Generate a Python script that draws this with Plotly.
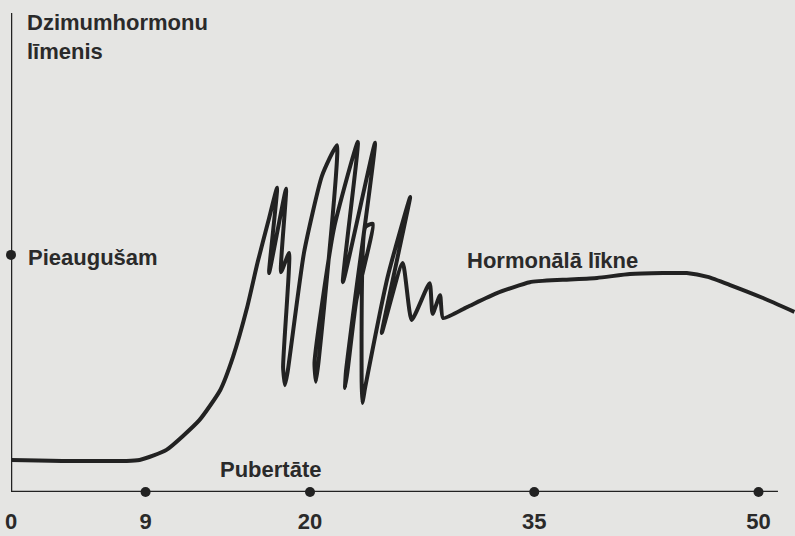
import plotly.graph_objects as go

# Hormone curve (age in years, relative sex-hormone level 0-100)
curve_age = [0.0, 8.6, 10.4, 12.6, 14.0, 14.85, 15.8, 16.5, 17.2, 17.8, 17.26, 18.4, 18.06, 18.6,
             18.2, 18.33, 18.5, 19.6, 20.8, 21.8, 20.6, 20.4, 20.3, 21.6, 23.2, 22.2, 24.35, 23.0,
             22.4, 22.34, 22.5, 23.1, 24.2, 23.7, 23.45, 23.5, 23.7, 25.2, 26.7, 24.8, 26.2, 26.8,
             28.0, 28.2, 28.7, 28.9, 30.5, 32.5, 34.7, 36.9, 39.2, 41.4, 43.6, 45.2, 46.6, 48.1,
             50.3, 52.4]
curve_level = [6.7, 6.7, 8.8, 15.0, 21.3, 28.2, 38.6, 48.0, 56.4, 63.5, 45.7, 63.3, 45.9, 49.9,
               26.0, 22.3, 25.0, 50.0, 66.0, 72.4, 28.0, 23.0, 27.0, 55.0, 73.1, 43.8, 72.9, 40.0,
               25.0, 21.7, 25.0, 40.0, 56.0, 55.3, 25.0, 18.6, 22.0, 45.0, 61.6, 33.2, 47.8, 35.9,
               43.6, 37.2, 41.1, 36.3, 38.6, 41.5, 43.8, 44.3, 44.7, 45.5, 45.7, 45.7, 44.9, 43.2,
               40.5, 37.6]

tick_ages = [0, 9, 20, 35, 50]
tick_labels = ["0", "9", "20", "35", "50"]
marked_ages = [9, 20, 35, 50]
adult_level = 49.5
axis_end_age = 51.3

title_text = "Dzimumhormonu<br>līmenis"
label_adult = "Pieaugušam"
label_curve = "Hormonālā līkne"
label_puberty = "Pubertāte"
label_axis = "Vecums gados"

INK = "#222222"
TXT = "#2a2a2a"
BG = "#e5e5e3"
FONT = "Liberation Sans, Arial, sans-serif"

fig = go.Figure()

fig.add_trace(go.Scatter(x=curve_age, y=curve_level, mode="lines",
                         line=dict(color=INK, width=4, shape="spline", smoothing=0.5),
                         hoverinfo="skip"))
fig.add_trace(go.Scatter(x=marked_ages, y=[0] * len(marked_ages), mode="markers",
                         marker=dict(color=INK, size=10), cliponaxis=False, hoverinfo="skip"))
fig.add_trace(go.Scatter(x=[0], y=[adult_level], mode="markers",
                         marker=dict(color=INK, size=10), cliponaxis=False, hoverinfo="skip"))

# axes lines
fig.add_shape(type="line", x0=0, x1=axis_end_age, y0=0, y1=0, xref="x", yref="y",
              line=dict(color=INK, width=2.5))
fig.add_shape(type="line", x0=0, x1=0, y0=0, y1=100, xref="x", yref="y",
              line=dict(color=INK, width=2.5))

def ann(text, x, y, anchor="left"):
    fig.add_annotation(text=text, x=x, y=y, xref="x", yref="y", xanchor=anchor, yanchor="middle",
                       align="left", showarrow=False,
                       font=dict(family=FONT, size=22, color=TXT, weight="bold"))

ann(title_text, 0.94, 95.0)
ann(label_adult, 1.0, 48.9)
ann(label_curve, 30.4, 48.4)
ann(label_puberty, 13.85, 4.8)
ann(label_axis, 37.5, -6.9)

fig.update_layout(
    width=795, height=536,
    margin=dict(l=11, r=0, t=13, b=44),
    paper_bgcolor=BG, plot_bgcolor=BG,
    showlegend=False,
    xaxis=dict(range=[0, 52.44], tickvals=tick_ages, ticktext=tick_labels,
               showgrid=False, zeroline=False, showline=False, ticks="",
               ticklabelstandoff=14, fixedrange=True,
               tickfont=dict(family=FONT, size=22, color=TXT, weight="bold")),
    yaxis=dict(range=[0, 100], showgrid=False, zeroline=False, showline=False,
               showticklabels=False, ticks="", fixedrange=True),
)

fig.write_html("out.html", config={"displayModeBar": False},
               post_script="document.body.style.margin='0';document.body.style.background='%s';" % BG)
